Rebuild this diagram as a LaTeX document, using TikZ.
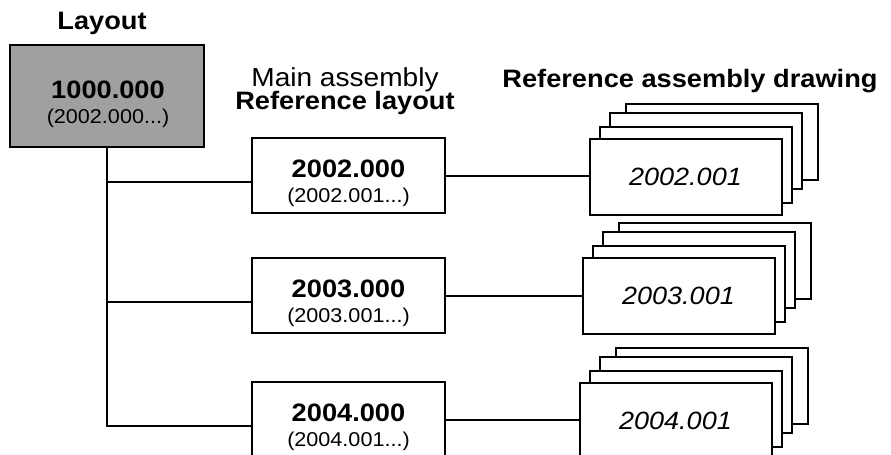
\documentclass[tikz,border=0pt]{standalone}
\usepackage{fontspec}
\setmainfont[FakeStretch=1.08]{Liberation Sans}
\usetikzlibrary{calc,positioning}
\definecolor{laygray}{RGB}{160,160,160}

\begin{document}
\begin{tikzpicture}[x=0.5pt,y=-0.5pt,
    box/.style={draw,line width=1pt,minimum width=96.5pt,minimum height=37.5pt,inner sep=0pt},
    sheet/.style={draw,fill=white,line width=1pt,minimum width=96pt,minimum height=38pt,inner sep=0pt,
        font=\fontsize{12.5}{14}\selectfont\itshape},
    bigtxt/.style={font=\fontsize{12.6}{14}\selectfont\bfseries,inner sep=0pt},
    plaintxt/.style={font=\fontsize{13}{15}\selectfont,inner sep=0pt},
    smalltxt/.style={font=\fontsize{10}{12}\selectfont,inner sep=0pt},
    link/.style={line width=1pt}]
    \useasboundingbox (0,0) rectangle (891,455);

    % headings
    \node[bigtxt] (hlay) at (102,23) {Layout};
    \node[plaintxt] (hmain) at (345,80) {Main assembly};
    \node[bigtxt] (href) at (345,103) {Reference layout};
    \node[bigtxt] (hdraw) at (690,81) {Reference assembly drawing};

    % layout box
    \node[box,fill=laygray,minimum width=97pt,minimum height=51pt] (lay) at (107,96) {};
    \node[bigtxt] (layn) at (108,90) {1000.000};
    \node[smalltxt] (lays) at (108,118) {(2002.000...)};

    % main assemblies and their drawing stacks
    \foreach \n/\y/\fx/\fy in {2002/175.5/685.5/177, 2003/295.5/678.5/296, 2004/419.5/675.5/421} {
        \node[box] (m\n) at (348.5,\y) {};
        \node[bigtxt] (mn\n) at ($(m\n)+(0,-7)$) {\n.000};
        \node[smalltxt] (ms\n) at ($(m\n)+(0,21.5)$) {(\n.001...)};
        \coordinate (c\n) at (\fx,\fy);
        \foreach \dx/\dy [count=\k] in {36/-35,20/-26,10/-12} {
            \node[sheet] (b\n\k) at ($(c\n)+(\dx,\dy)$) {};
        }
        \node[sheet] (f\n) at (c\n) {\n.001};
        \coordinate (j\n) at ([yshift=-3pt]m\n.west);
        \draw[link] (m\n.east) -- (m\n.east -| f\n.west);
    }

    \draw[link] (lay.south) |- (j2004);
    \foreach \n in {2002,2003} {
        \draw[link] (lay.south |- j\n) -- (j\n);
    }
\end{tikzpicture}
\end{document}
